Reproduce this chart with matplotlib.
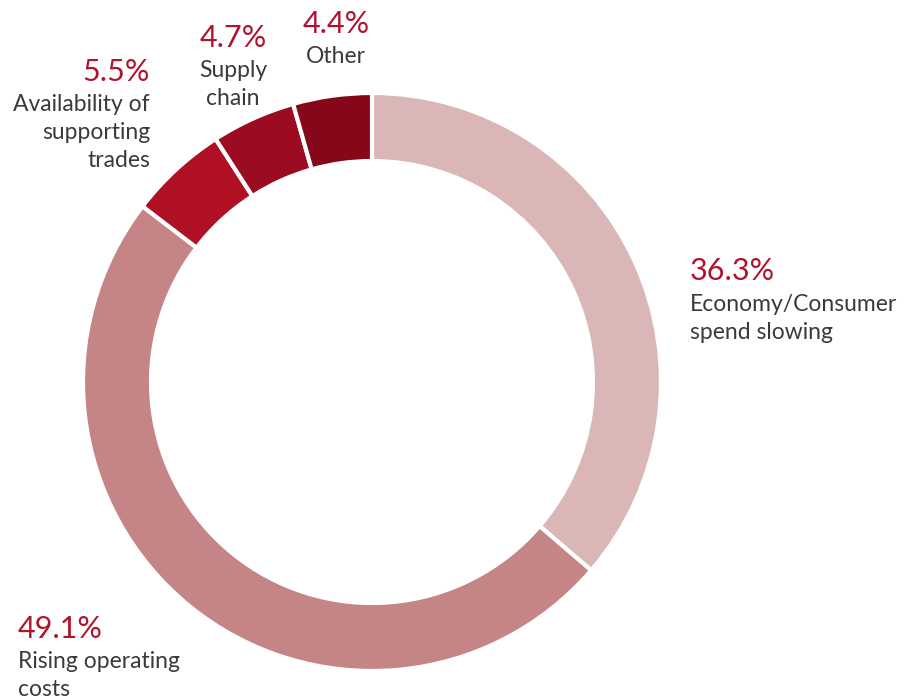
import matplotlib
matplotlib.use("Agg")
import matplotlib.pyplot as plt

categories = ["Economy/Consumer\nspend slowing", "Rising operating\ncosts",
              "Availability of\nsupporting\ntrades", "Supply\nchain", "Other"]
values = [36.3, 49.1, 5.5, 4.7, 4.4]
pct_labels = ["36.3%", "49.1%", "5.5%", "4.7%", "4.4%"]
colors = ["#dbb6b7", "#c58586", "#b01024", "#9b0c22", "#86071a"]

W, H = 907, 698
fig = plt.figure(figsize=(W / 100, H / 100), dpi=100)
fig.patch.set_facecolor("white")

cx, cy = 372, H - 382
half = 300
ax = fig.add_axes([(cx - half) / W, (cy - half) / H, 2 * half / W, 2 * half / H])

ax.pie(values, colors=colors, startangle=90, counterclock=False, radius=289,
       wedgeprops=dict(width=68, edgecolor="white", linewidth=3))
ax.set_xlim(-half, half)
ax.set_ylim(-half, half)
ax.set_aspect("equal")
ax.axis("off")

font = dict(family=["Lato", "DejaVu Sans"], fontweight="normal")
pct_color = "#b0132e"
lab_color = "#3a3a3a"
pct_size = 22
lab_size = 16.5

# (x, pct_baseline, label_first_baseline, ha) in pixel coords from top-left
positions = [
    (690, 280, 311, "left"),
    (18, 638, 668, "left"),
    (150, 81, 111, "right"),
    (233, 47, 77, "center"),
    (336, 33, 63, "center"),
]

line_gap = 28
for (x, pb, lb, ha), pct, lab in zip(positions, pct_labels, categories):
    fig.text(x / W, 1 - pb / H, pct, ha=ha, va="baseline", color=pct_color,
             fontsize=pct_size, **font)
    for i, line in enumerate(lab.split("\n")):
        fig.text(x / W, 1 - (lb + i * line_gap) / H, line, ha=ha, va="baseline",
                 color=lab_color, fontsize=lab_size, **font)

fig.savefig("out.png", dpi=100, facecolor="white")
